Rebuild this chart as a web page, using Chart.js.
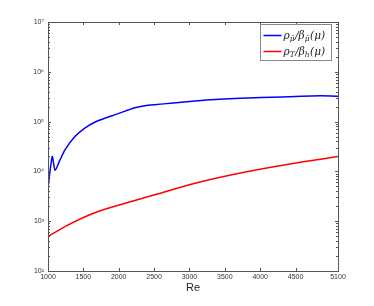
<!DOCTYPE html>
<html>
<head>
<meta charset="UTF-8">
<script src="https://cdn.jsdelivr.net/npm/chart.js"></script>
<style>
  body { margin: 0; background: #fff; overflow: hidden; }
  canvas { display: block; }
</style>
</head>
<body>
<canvas id="chart" width="374" height="306"></canvas>
<script>
// data
const reBlue = [1000, 1060, 1100, 1170, 1240, 1380, 1520, 1660, 1810, 1950, 2090, 2230, 2370, 2500, 2770, 3240, 3720, 4320, 4850, 5000, 5100];
const rhoMu  = [4700, 20000, 10500, 17000, 27000, 50000, 74000, 97000, 118000, 138000, 162000, 190000, 208000, 218000, 236000, 270000, 296000, 313000, 331000, 328000, 323000];
const reRed  = [1000, 1240, 1660, 2090, 2510, 3080, 3720, 4420, 5100];
const rhoT   = [490, 780, 1480, 2300, 3400, 5800, 9300, 14100, 19900];

const xTicks = [1000, 1500, 2000, 2500, 3000, 3500, 4000, 4500, 5100];
const yTicks = [1e2, 1e3, 1e4, 1e5, 1e6, 1e7];
const yTickLabels = ['10²', '10³', '10⁴', '10⁵', '10⁶', '10⁷'];
const xTitle = 'Re';

const axisColor = '#555';

// box, inward ticks and legend, MATLAB style
const matlabAxes = {
  id: 'matlabAxes',
  afterDraw(chart) {
    const ctx = chart.ctx;
    const a = chart.chartArea;
    const xs = chart.scales.x, ys = chart.scales.y;
    ctx.save();
    ctx.strokeStyle = axisColor;
    ctx.lineWidth = 1;
    ctx.strokeRect(Math.round(a.left) + 0.5, Math.round(a.top) + 0.5,
      Math.round(a.right - a.left), Math.round(a.bottom - a.top));
    ctx.beginPath();
    xTicks.forEach(v => {
      const px = Math.round(xs.getPixelForValue(v)) + 0.5;
      ctx.moveTo(px, a.bottom); ctx.lineTo(px, a.bottom - 3);
      ctx.moveTo(px, a.top); ctx.lineTo(px, a.top + 3);
    });
    for (let e = 2; e < 7; e++) {
      for (let m = 1; m < 10; m++) {
        const v = m * Math.pow(10, e);
        const py = Math.round(ys.getPixelForValue(v)) + 0.5;
        const len = m === 1 ? 3 : 2;
        ctx.moveTo(a.left, py); ctx.lineTo(a.left + len, py);
        ctx.moveTo(a.right, py); ctx.lineTo(a.right - len, py);
      }
    }
    ctx.stroke();

    // legend
    const bx = 260.5, by = 24.5, bw = 71, bh = 36;
    ctx.fillStyle = '#fff';
    ctx.fillRect(bx, by, bw, bh);
    ctx.strokeStyle = '#888';
    ctx.strokeRect(bx, by, bw, bh);
    const rows = [
      { color: '#0000ff', y: by + 11, parts: [['ρ', 0], ['μ̄', 1], ['/β', 0], ['μ̄', 1], ['(μ)', 0]] },
      { color: '#ff0000', y: by + 27, parts: [['ρ', 0], ['T', 1], ['/β', 0], ['h', 1], ['(μ)', 0]] }
    ];
    rows.forEach(r => {
      ctx.strokeStyle = r.color;
      ctx.lineWidth = 1.5;
      ctx.beginPath();
      ctx.moveTo(bx + 3, r.y); ctx.lineTo(bx + 21, r.y);
      ctx.stroke();
      let tx = bx + 23;
      ctx.fillStyle = '#222';
      ctx.textBaseline = 'alphabetic';
      r.parts.forEach(([t, sub]) => {
        ctx.font = sub ? 'italic 7.5px "DejaVu Serif"' : 'italic 10.5px "DejaVu Serif"';
        ctx.fillText(t, tx, r.y + (sub ? 5 : 3.5));
        tx += ctx.measureText(t).width + (sub ? 0.5 : 0);
      });
    });
    ctx.restore();
  }
};

new Chart(document.getElementById('chart'), {
  type: 'line',
  data: {
    datasets: [
      {
        label: 'ρμ/βμ(μ)',
        data: reBlue.map((x, i) => ({ x: x, y: rhoMu[i] })),
        borderColor: '#0000ff',
        borderWidth: 1.5,
        pointRadius: 0,
        tension: 0.2
      },
      {
        label: 'ρT/βh(μ)',
        data: reRed.map((x, i) => ({ x: x, y: rhoT[i] })),
        borderColor: '#ff0000',
        borderWidth: 1.5,
        pointRadius: 0,
        cubicInterpolationMode: 'monotone'
      }
    ]
  },
  options: {
    responsive: false,
    animation: false,
    layout: { padding: { left: 0, right: 36, top: 22, bottom: 11 } },
    plugins: { legend: { display: false }, tooltip: { enabled: false } },
    scales: {
      x: {
        type: 'linear',
        min: 1000,
        max: 5100,
        afterBuildTicks: s => { s.ticks = xTicks.map(v => ({ value: v })); },
        afterFit: s => { s.height = 24; },
        grid: { display: false, drawTicks: false },
        border: { display: false },
        ticks: {
          color: '#333',
          font: { family: 'Liberation Sans', size: 7 },
          padding: 2,
          maxRotation: 0,
          autoSkip: false,
          callback: v => String(v)
        },
        title: {
          display: true,
          text: xTitle,
          color: '#222',
          font: { family: 'Liberation Sans', size: 11 },
          padding: { top: 0, bottom: 0 }
        }
      },
      y: {
        type: 'logarithmic',
        min: 100,
        max: 1e7,
        afterBuildTicks: s => { s.ticks = yTicks.map(v => ({ value: v })); },
        afterFit: s => { s.width = 48; },
        grid: { display: false, drawTicks: false },
        border: { display: false },
        ticks: {
          color: '#333',
          font: { family: 'Liberation Sans', size: 7 },
          padding: 4,
          autoSkip: false,
          callback: v => yTickLabels[yTicks.indexOf(v)]
        }
      }
    }
  },
  plugins: [matlabAxes]
});
</script>
</body>
</html>
